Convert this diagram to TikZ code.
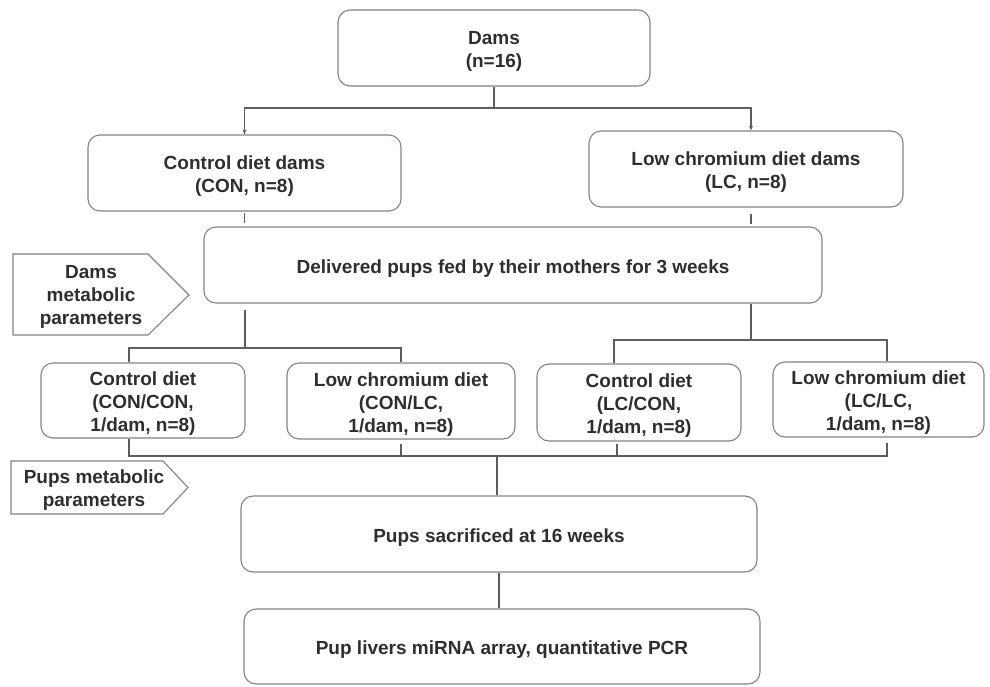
\documentclass[tikz,border=0pt]{standalone}
\usepackage{fontspec}
\setmainfont{Liberation Sans}
\usetikzlibrary{arrows.meta}
\definecolor{txt}{HTML}{2E2E2E}
\definecolor{bord}{HTML}{828282}
\definecolor{conncol}{HTML}{5E5E5E}
\begin{document}
\begin{tikzpicture}[x=1pt,y=-1pt,
  lbl/.style={align=center, text=txt, font=\bfseries\fontsize{19}{23}\selectfont, inner sep=0pt},
  box/.style={draw=bord, line width=1.1pt, rounded corners=12pt, inner sep=0pt},
  boxtext/.style={label={[lbl, yshift=-3.5pt]center:{#1}}},
  conn/.style={draw=conncol, line width=1.1pt},
  arr/.style={conn, -{Stealth[length=5pt,width=4pt]}},
  tagshape/.style={draw=bord, line width=1.1pt}]
\useasboundingbox (0,0) rectangle (990,686);

% boxes
\node[box, minimum width=312pt, minimum height=76pt, boxtext={Dams\\(n=16)}] (dams) at (494,48) {};
\node[box, minimum width=313pt, minimum height=76pt, boxtext={Control diet dams\\(CON, n=8)}] (cdd) at (244.5,173) {};
\node[box, minimum width=314pt, minimum height=76pt, boxtext={Low chromium diet dams\\(LC, n=8)}] (lcd) at (746,169) {};
\node[box, minimum width=618pt, minimum height=76pt, boxtext={Delivered pups fed by their mothers for 3 weeks}] (deliv) at (513,265) {};
\node[box, minimum width=204pt, minimum height=75pt, boxtext={Control diet\\(CON/CON,\\1/dam, n=8)}] (b1) at (143,400.5) {};
\node[box, minimum width=228pt, minimum height=76pt, boxtext={Low chromium diet\\(CON/LC,\\1/dam, n=8)}] (b2) at (401,401) {};
\node[box, minimum width=204pt, minimum height=77pt, boxtext={Control diet\\(LC/CON,\\1/dam, n=8)}] (b3) at (639,402.5) {};
\node[box, minimum width=211pt, minimum height=75pt, boxtext={Low chromium diet\\(LC/LC,\\1/dam, n=8)}] (b4) at (878.5,399.5) {};
\node[box, minimum width=516pt, minimum height=76pt, boxtext={Pups sacrificed at 16 weeks}] (sac) at (499,534) {};
\node[box, minimum width=516pt, minimum height=75pt, boxtext={Pup livers miRNA array, quantitative PCR}] (liv) at (502,646.5) {};

% side tags
\draw[tagshape] (13,254) -- (148,254) -- (189,295) -- (148,335) -- (13,335) -- cycle;
\node[lbl] (dmp) at (91,297) {Dams\\metabolic\\parameters};
\draw[tagshape] (11,461) -- (163,461) -- (188,487.5) -- (163,514) -- (11,514) -- cycle;
\node[lbl] (pmp) at (94,490.5) {Pups metabolic\\parameters};

% junctions
\coordinate (j1) at (494,108);
\coordinate (j2) at (245,348);
\coordinate (j3) at (751,340);
\coordinate (j4) at (497,456);

% connectors
\draw[conn] (dams.south) -- (j1);
\draw[arr] (j1) -| (cdd.north);
\draw[arr] (j1) -| ([xshift=5pt]lcd.north);

\draw[conn, shorten <=1pt, shorten >=3pt] (cdd.south) -- (cdd.south |- deliv.north);
\draw[conn, shorten <=6pt, shorten >=2pt] ([xshift=5pt]lcd.south) -- ([xshift=5pt]lcd.south |- deliv.north);

\draw[conn, shorten <=6pt] (deliv.south -| j2) -- (j2);
\draw[conn] ([xshift=-14pt]b1.north) |- (j2) -| (b2.north);

\draw[conn] (deliv.south -| j3) -- (j3);
\draw[conn] ([xshift=-25pt]b3.north) |- (j3) -| ([xshift=8.5pt]b4.north);

\draw[conn] ([xshift=-14pt]b1.south) |- (j4) -| ([xshift=8.5pt,yshift=-5pt]b4.south);
\draw[conn, shorten <=4pt] (b2.south) -- (b2.south |- j4);
\draw[conn, shorten <=2pt] ([xshift=-22pt]b3.south) -- ([xshift=-22pt]b3.south |- j4);
\draw[conn] (j4) -- (j4 |- sac.north);
\draw[conn] (sac.south) -- (sac.south |- liv.north);
\end{tikzpicture}
\end{document}
